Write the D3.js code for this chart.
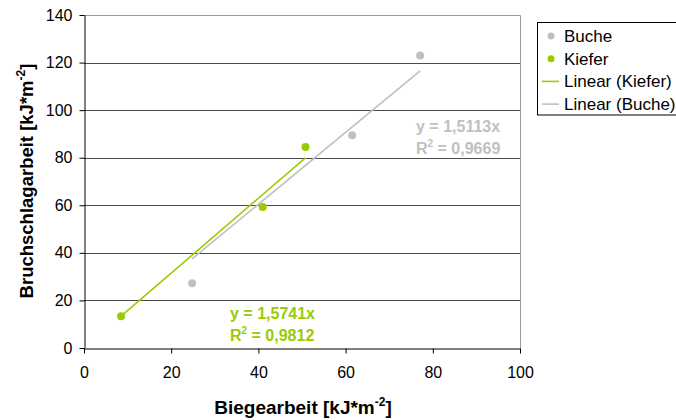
<!DOCTYPE html>
<html><head><meta charset="utf-8">
<script src="https://cdn.jsdelivr.net/npm/d3@7"></script>
<style>body{margin:0;background:#fff}svg{display:block}text{font-family:"Liberation Sans",Arial,sans-serif}</style>
</head><body><svg id="c" width="676" height="420"></svg>
<script>
const bucheX = [24.8, 61.5, 77.1];
const bucheY = [27.2, 89.4, 123.0];
const kieferX = [8.5, 41.0, 50.8];
const kieferY = [13.3, 59.3, 84.5];
const bucheSlope = 1.5113, bucheR2 = "0,9669";
const kieferSlope = 1.5741, kieferR2 = "0,9812";
const xTicks = [0, 20, 40, 60, 80, 100];
const yTicks = [0, 20, 40, 60, 80, 100, 120, 140];
const legendLabels = ["Buche", "Kiefer", "Linear (Kiefer)", "Linear (Buche)"];
const cBuche = "#c0c0c0", cKiefer = "#99cc00";

const svg = d3.select("#c");
const x = d3.scaleLinear().domain([0, 100]).range([84, 520]);
const y = d3.scaleLinear().domain([0, 140]).range([348, 15]);

// grid
svg.append("g").selectAll("line").data(yTicks.filter(d => d > 0 && d < 140)).join("line")
  .attr("x1", x(0)).attr("x2", x(100)).attr("y1", d => Math.round(y(d)) + 0.5).attr("y2", d => Math.round(y(d)) + 0.5)
  .attr("stroke", "#4a4a4a").attr("stroke-width", 1);
// top & right border
svg.append("path").attr("d", `M${x(0)},${Math.round(y(140))+0.5}H${x(100)+0.5}V${y(0)}`)
  .attr("fill", "none").attr("stroke", "#9a9a9a");

// axes
const fmt = d3.format("d");
const xa = svg.append("g").attr("transform", `translate(0,${Math.round(y(0))+0.5})`)
  .call(d3.axisBottom(x).tickValues(xTicks).tickSize(5).tickSizeOuter(0).tickPadding(13).tickFormat(fmt));
const ya = svg.append("g").attr("transform", `translate(${x(0)+0.5},0)`)
  .call(d3.axisLeft(y).tickValues(yTicks).tickSize(5).tickSizeOuter(0).tickPadding(7).tickFormat(fmt));
[xa, ya].forEach(a => {
  a.select(".domain").attr("stroke", "#000");
  a.selectAll(".tick line").attr("stroke", "#000");
  a.selectAll(".tick text").attr("font-size", 16).attr("fill", "#000").attr("font-family", "'Liberation Sans',Arial,sans-serif");
});

// trend lines
function trend(xs, slope, color) {
  const x0 = d3.min(xs), x1 = d3.max(xs);
  svg.append("line").attr("x1", x(x0)).attr("y1", y(slope * x0)).attr("x2", x(x1)).attr("y2", y(slope * x1))
    .attr("stroke", color).attr("stroke-width", 1.6);
}
trend(bucheX, bucheSlope, cBuche);
trend(kieferX, kieferSlope, cKiefer);

// points
function pts(xs, ys, color) {
  svg.append("g").selectAll("circle").data(xs.map((d, i) => [d, ys[i]])).join("circle")
    .attr("cx", d => x(d[0])).attr("cy", d => y(d[1])).attr("r", 4).attr("fill", color);
}
pts(bucheX, bucheY, cBuche);
pts(kieferX, kieferY, cKiefer);

// equations
function eq(tx, ty, slope, r2, color) {
  const g = svg.append("g").attr("fill", color).attr("font-size", 16).attr("font-weight", "bold");
  g.append("text").attr("x", tx).attr("y", ty).text("y = " + String(slope).replace(".", ",") + "x");
  const t = g.append("text").attr("x", tx).attr("y", ty + 21.5);
  t.append("tspan").text("R");
  t.append("tspan").attr("font-size", 10).attr("dy", -7).text("2");
  t.append("tspan").attr("dy", 7).text(" = " + r2);
}
eq(416, 132, bucheSlope, bucheR2, cBuche);
eq(230, 319, kieferSlope, kieferR2, cKiefer);

// axis titles
const xt = svg.append("text").attr("x", 303).attr("y", 414).attr("text-anchor", "middle")
  .attr("font-size", 19).attr("font-weight", "bold");
xt.append("tspan").text("Biegearbeit [kJ*m");
xt.append("tspan").attr("font-size", 12).attr("dy", -8).text("-2");
xt.append("tspan").attr("dy", 8).text("]");
const yt = svg.append("text").attr("transform", "translate(33,181) rotate(-90)").attr("text-anchor", "middle")
  .attr("font-size", 18.5).attr("font-weight", "bold");
yt.append("tspan").text("Bruchschlagarbeit [kJ*m");
yt.append("tspan").attr("font-size", 12).attr("dy", -8).text("-2");
yt.append("tspan").attr("dy", 8).text("]");

// legend
const lg = svg.append("g");
lg.append("rect").attr("x", 537.5).attr("y", 22.5).attr("width", 150).attr("height", 92.5)
  .attr("fill", "#fff").attr("stroke", "#000");
const lgColors = [cBuche, cKiefer, cKiefer, cBuche];
const lgType = ["dot", "dot", "line", "line"];
legendLabels.forEach((lab, i) => {
  const cy = 36 + i * 22.7;
  if (lgType[i] === "dot") lg.append("circle").attr("cx", 551).attr("cy", cy).attr("r", 3.5).attr("fill", lgColors[i]);
  else lg.append("line").attr("x1", 542).attr("x2", 559).attr("y1", cy).attr("y2", cy).attr("stroke", lgColors[i]).attr("stroke-width", 1.6);
  lg.append("text").attr("x", 564).attr("y", cy + 6).attr("font-size", 17).attr("fill", "#000").text(lab);
});
</script></body></html>
